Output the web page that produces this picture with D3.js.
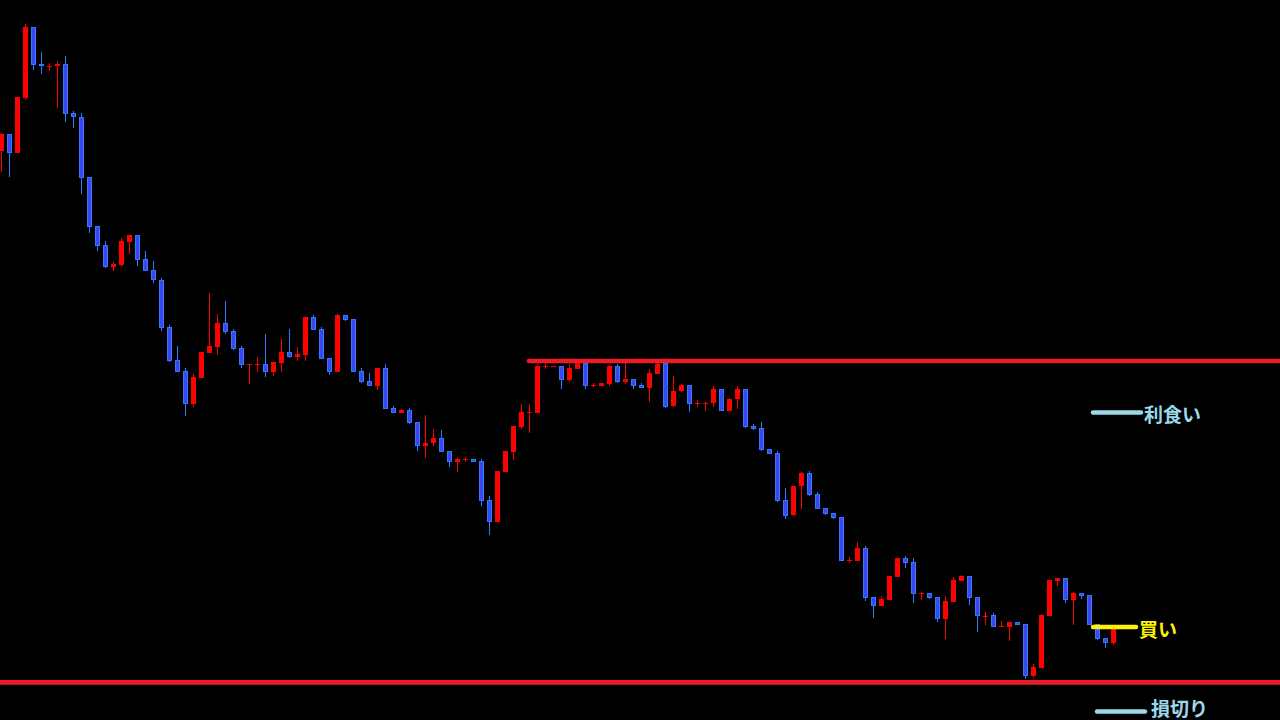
<!DOCTYPE html>
<html>
<head>
<meta charset="utf-8">
<script src="https://cdn.jsdelivr.net/npm/d3@7"></script>
<style>
  html, body { margin: 0; padding: 0; background: #000; overflow: hidden; }
  svg { display: block; }
</style>
</head>
<body>
<script>
// prix (unités arbitraires, plus haut = plus cher)
const opens = [569,586,567,622,693,656,654,653.5,656,607,603,543,494,475,453.5,455,478.5,485,461,450,
  440,393,360,349,316,342.5,367.5,373,397,389,372,355.5,355.5,356,348,357.5,368,363.5,365,403,
  391,362,348,405,401,349,339,334.5,352,312,307.5,310,298,274.5,276.5,282,269,258.5,260.5,261,
  259,220,198.5,248.5,268.5,293,307.5,307.5,353.5,353.5,354,340,351,357,334.5,334.5,336.5,354,338.5,341,
  335,332.5,346.5,357,313.5,328.5,335,316.5,317,316.5,331,309.5,320.5,331,294,292,271,267,220,204.5,
  233.5,247,226,212,207,203,160,159.5,172,123,114.5,120.5,143.5,162,158,127,127,123,101.5,118.5,
  139.5,144,123,104,105,93.5,93.5,98,96,44.5,52.5,104.5,139,142,120.5,127,125,96,82,77.5];
const highs = [587,586,623,696,693,668,657,659,664,609,607,543,494,479,458,482,485,485,469,459,
  442,395,374,352,346,368,427,406,419,391,374,356,363,386,358,381,391,373,403,405,
  393,362,406,405,401,352,347,352,356,314,311,312,298,305,291,290,269,262,263,261,
  261,224,249,269,294,316,316,356,356,354,354,356,358,358,337,337,355,356,358,341,
  337,351,358,358,344,336,335,320,318.5,334,331,322,334,331,296,298,271,269,232,234,
  248,249,228,212,207,203,163,178,174,123,124,144,162,164,162,128.5,127,123,124,143,
  145,144,123,108,107,99,98,98,96,56,106,140,142,142,128,127,125,96,82,92];
const lows = [548,543,567,620,650,646,649,612,598,592,526,487,469,452,449,453,466,454,449,437,
  389,358,348,304,313,342,367,365,386,370,352,336,348,343,344,348,362,359,359,390,
  361,345,348,399,348,337,334,330,311,307,307,296,269,262,274,268,253,248,258,258,
  214,185,198,248,260,291,287,307,351,353,331,338,351,331,332.5,334,334,337,336,331,
  332,318,346,312,313,328,308,313,309,313,309,309,311,292,290,269,266,218,201,204,
  211,224,211,205,201,159,157,159,119,102,114,120,143,152,117,120,121,98,81,118,
  139,115,88,95,93,93,79,95,41,42,52,104,134,117,95,121,95,80,72,75];
const closes = [586,567,623,693,655,653.5,654.5,656,606,602.5,542,493,474,453,456.5,479,485,460,449,440,
  392,359,348,316,343,368,374,397,388,371,355,356,356,348,358,368,363.5,366,403,390,
  361,348,405,400.5,348,338,334.5,352,311,307.5,310,297,274,277,282,268,258,261,261,258.5,
  219,198,249,269,294,308,308,354,354,354,340,352,357,334,335,337,354,338.5,341,334.5,
  332.5,347,356,313,329,335,316,317,317.5,331,309,321,331,293,291.5,270,266.5,219,204,234,
  247,225,211,206,202,159,160.5,172,122,114,121,144,162,157,126,127.5,122,101,119,140,
  144,122,104,104.5,93,94,98,95.5,44,53,105,140,142,120,127,124.5,95,81,77,92];

// niveaux tracés à la main sur le graphique
const resistance = 359;
const support = 37.7;
const labels = ["利食い", "買い", "損切り"];
const labelLevels = [307.5, 93, 8.5];
const labelColors = ["#99d9ea", "#fff200", "#99d9ea"];

const width = 1280, height = 720;
const n = opens.length;

const candles = opens.map((o, i) => ({ i: i, open: o, high: highs[i], low: lows[i], close: closes[i] }));

const svg = d3.select("body").append("svg")
  .attr("width", width)
  .attr("height", height);

svg.append("rect").attr("width", width).attr("height", height).attr("fill", "#000");

const x = d3.scaleLinear().domain([0, n - 1]).range([1.5, 8 * (n - 1) + 1.5]);
const y = d3.scaleLinear().domain([0, 720]).range([720, 0]);

const redC = "#ff0000", blueFill = "#3f45f0", blueLine = "#2e7aff";

const g = svg.append("g");

// mèches
g.selectAll(".wick")
  .data(candles)
  .enter()
  .append("line")
  .attr("x1", d => x(d.i))
  .attr("x2", d => x(d.i))
  .attr("y1", d => y(d.high))
  .attr("y2", d => y(d.low))
  .attr("stroke", d => d.close >= d.open ? redC : blueLine)
  .attr("stroke-width", 1);

// corps
g.selectAll(".body")
  .data(candles)
  .enter()
  .append("rect")
  .each(function (d) {
    let top = Math.round(y(Math.max(d.open, d.close)));
    let h = Math.max(1, Math.round(Math.abs(y(d.open) - y(d.close))));
    let r = d3.select(this);
    if (d.close >= d.open) {
      r.attr("x", x(d.i) - 2.5).attr("y", top).attr("width", 5).attr("height", h).attr("fill", redC);
    } else if (h < 3) {
      r.attr("x", x(d.i) - 2.5).attr("y", top).attr("width", 5).attr("height", h).attr("fill", blueLine);
    } else {
      r.attr("x", x(d.i) - 2).attr("y", top + 0.5).attr("width", 4).attr("height", h - 1)
        .attr("fill", blueFill).attr("stroke", blueLine).attr("stroke-width", 1);
    }
  });

// lignes horizontales rouges
svg.append("line")
  .attr("x1", 529).attr("x2", 1290)
  .attr("y1", y(resistance)).attr("y2", y(resistance))
  .attr("stroke", "#ed1c24").attr("stroke-width", 4.7).attr("stroke-linecap", "round");

svg.append("line")
  .attr("x1", -10).attr("x2", 1290)
  .attr("y1", y(support)).attr("y2", y(support))
  .attr("stroke", "#ed1c24").attr("stroke-width", 4.7);

// annotations
const lineX = [[1093, 1141], [1093, 1136], [1097, 1145]];
const textX = [1144, 1139, 1151];
const textDy = [1, 1, -4];

labels.forEach((lab, k) => {
  svg.append("line")
    .attr("x1", lineX[k][0]).attr("x2", lineX[k][1])
    .attr("y1", y(labelLevels[k])).attr("y2", y(labelLevels[k]))
    .attr("stroke", labelColors[k]).attr("stroke-width", 4.5).attr("stroke-linecap", "round");
  svg.append("text")
    .attr("x", textX[k])
    .attr("y", y(labelLevels[k]) + textDy[k])
    .attr("dominant-baseline", "central")
    .attr("font-family", "'Noto Sans CJK JP', sans-serif")
    .attr("font-weight", "bold")
    .attr("font-size", 19)
    .attr("fill", labelColors[k])
    .text(lab);
});
</script>
</body>
</html>
